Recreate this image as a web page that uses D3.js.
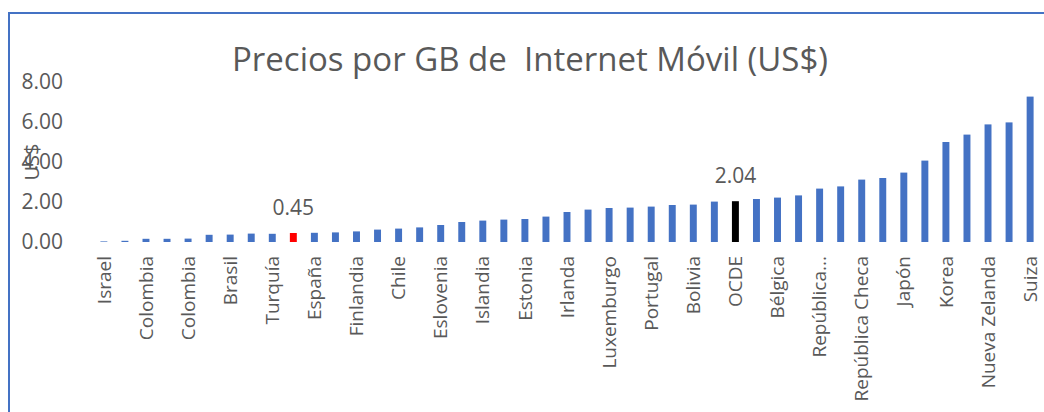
<!DOCTYPE html>
<html>
<head>
<meta charset="utf-8">
<script src="https://d3js.org/d3.v7.min.js"></script>
<style>
  body { margin: 0; background: #fff; }
  svg text { font-family: "Open Sans", sans-serif; fill: #595959; }
</style>
</head>
<body>
<script>
  // categories in chart order (only every other name shows on the axis)
  var paises = ["Israel", "Italia", "Colombia", "Polonia", "Colombia", "Letonia",
    "Brasil", "Lituania", "Turquía", "Perú", "España", "Dinamarca", "Finlandia",
    "Austria", "Chile", "Francia", "Eslovenia", "Suecia", "Islandia", "Reino Unido",
    "Estonia", "Eslovaquia", "Irlanda", "México", "Luxemburgo", "Países Bajos",
    "Portugal", "Alemania", "Bolivia", "Noruega", "OCDE", "Argentina", "Bélgica",
    "Hungría", "República Dominicana", "Australia", "República Checa", "Estados Unidos",
    "Japón", "Canadá", "Korea", "Grecia", "Nueva Zelanda", "Ecuador", "Suiza"];

  var precios = [0.03, 0.06, 0.16, 0.16, 0.17, 0.36, 0.37, 0.42, 0.41, 0.45,
    0.46, 0.48, 0.53, 0.62, 0.67, 0.73, 0.85, 1.00, 1.07, 1.12,
    1.15, 1.27, 1.50, 1.62, 1.70, 1.72, 1.77, 1.85, 1.87, 2.02,
    2.04, 2.15, 2.22, 2.33, 2.67, 2.78, 3.12, 3.20, 3.47, 4.07,
    5.00, 5.37, 5.88, 5.98, 7.27];

  var yTicks = [0, 2, 4, 6, 8];
  var destacados = { "Perú": "#ff0000", "OCDE": "#000000" };
  var conEtiqueta = ["Perú", "OCDE"];

  var width = 1044, height = 412;

  var svg = d3.select("body").append("svg")
    .attr("width", width)
    .attr("height", height);

  // chart border (cropped on right and bottom)
  svg.append("rect")
    .attr("x", 9).attr("y", 13)
    .attr("width", width + 20).attr("height", height + 20)
    .attr("fill", "none")
    .attr("stroke", "#4472c4")
    .attr("stroke-width", 2);

  svg.append("text")
    .attr("x", 530).attr("y", 71)
    .attr("text-anchor", "middle")
    .style("font-size", "33px")
    .style("white-space", "pre")
    .attr("xml:space", "preserve")
    .text("Precios por GB de  Internet Móvil (US$)");

  var x = d3.scaleBand()
    .domain(d3.range(paises.length))
    .range([86.3, 1047.7])
    .padding(0.67);

  var y = d3.scaleLinear()
    .domain([0, 8])
    .range([242, 82]);

  var yAxis = svg.append("g")
    .attr("transform", "translate(63,0)")
    .call(d3.axisLeft(y).tickValues(yTicks).tickSize(0).tickPadding(0).tickFormat(d3.format(".2f")));
  yAxis.select(".domain").remove();
  yAxis.selectAll("text")
    .style("font-size", "21px")
    .style("font-family", "'Open Sans', sans-serif")
    .attr("fill", "#595959");

  svg.append("text")
    .attr("transform", "translate(39,162) rotate(-90)")
    .attr("text-anchor", "middle")
    .style("font-size", "20px")
    .text("US$");

  svg.selectAll("rect.bar")
    .data(precios)
    .enter()
    .append("rect")
    .attr("class", "bar")
    .attr("x", function(d, i) { return x(i); })
    .attr("y", function(d) { return y(d); })
    .attr("width", x.bandwidth())
    .attr("height", function(d) { return y(0) - y(d); })
    .attr("fill", function(d, i) { return destacados[paises[i]] || "#4472c4"; });

  svg.selectAll("text.valor")
    .data(precios.filter(function(d, i) { return conEtiqueta.indexOf(paises[i]) >= 0; }))
    .enter()
    .append("text")
    .attr("class", "valor")
    .attr("x", function(d) { return x(precios.indexOf(d)) + x.bandwidth() / 2; })
    .attr("y", function(d) { return y(d) - 18; })
    .attr("text-anchor", "middle")
    .style("font-size", "21px")
    .text(function(d) { return d.toFixed(2); });

  var xAxis = svg.append("g")
    .attr("transform", "translate(0,242)")
    .call(d3.axisBottom(x)
      .tickValues(d3.range(0, paises.length, 2))
      .tickSize(0)
      .tickFormat(function(i) {
        var n = paises[i];
        return n.length > 16 ? n.slice(0, 9) + "..." : n;
      }));
  xAxis.select(".domain").remove();
  xAxis.selectAll("text")
    .attr("transform", "rotate(-90)")
    .attr("x", -14)
    .attr("y", 0)
    .attr("dy", "0.35em")
    .attr("text-anchor", "end")
    .attr("fill", "#595959")
    .style("font-size", "19px")
    .style("font-family", "'Open Sans', sans-serif");
</script>
</body>
</html>
